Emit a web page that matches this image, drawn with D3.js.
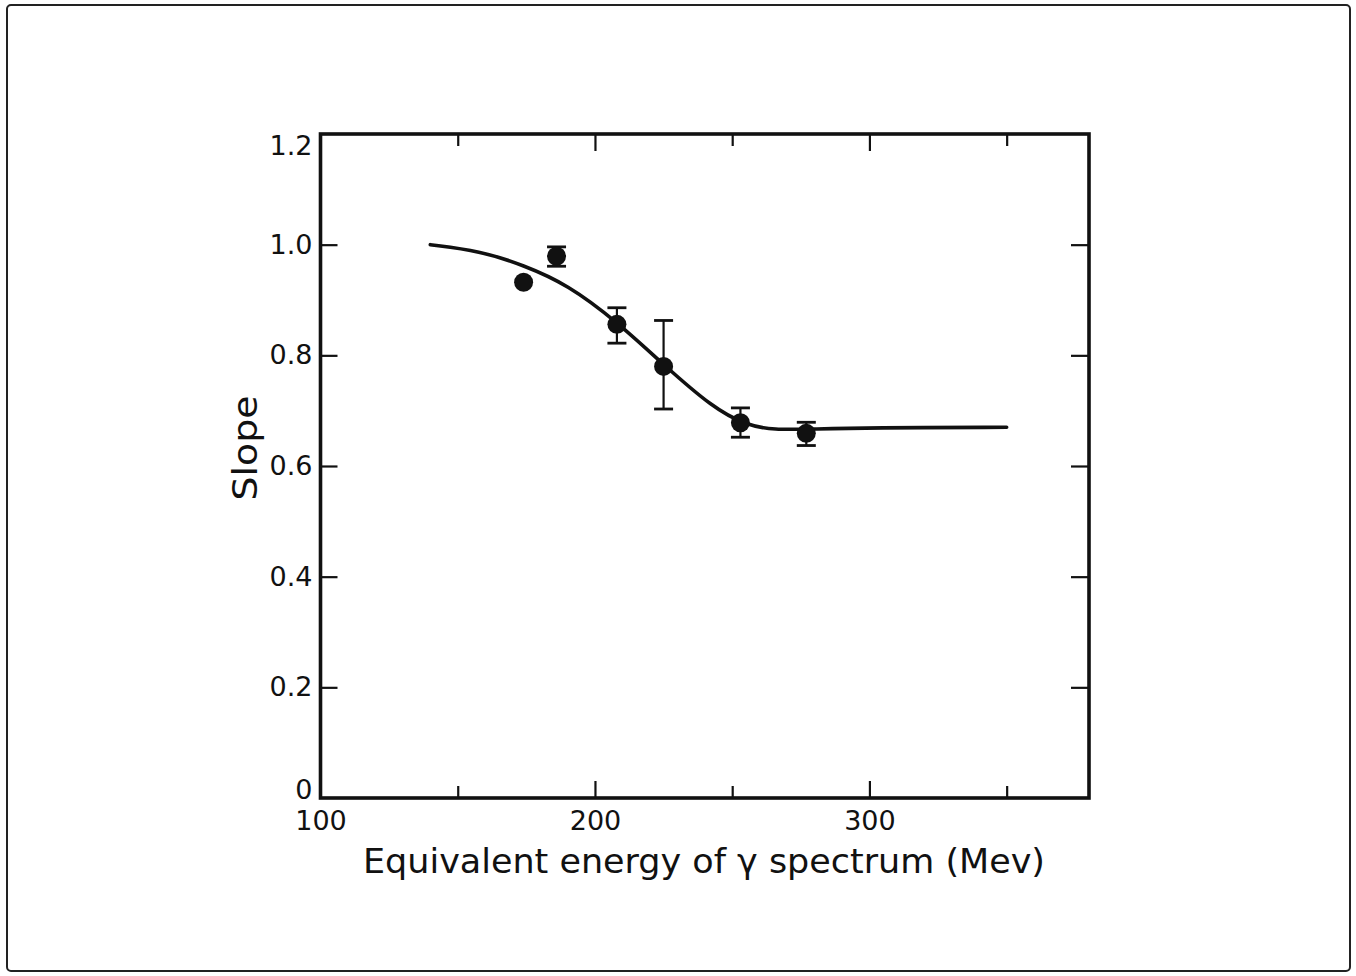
<!DOCTYPE html>
<html>
<head>
<meta charset="utf-8">
<script src="https://cdn.jsdelivr.net/npm/d3@7/dist/d3.min.js"></script>
<style>
  html, body { margin: 0; padding: 0; background: #fff; }
  svg { display: block; }
  text { font-family: "DejaVu Sans", sans-serif; fill: #111; }
</style>
</head>
<body>
<script>
// Measured slopes vs. equivalent photon energy
const energy = [174, 186, 208, 225, 253, 277];
const slope  = [0.932, 0.979, 0.856, 0.780, 0.678, 0.659];
const errUp  = [null, 0.017, 0.030, 0.083, 0.027, 0.020];
const errDn  = [null, 0.018, 0.034, 0.077, 0.026, 0.022];

// Smooth fitted curve, sampled along its length
const curveE = [140, 158, 174, 190, 208, 225, 243, 255, 265, 280, 300, 350];
const curveS = [1.000, 0.989, 0.963, 0.928, 0.861, 0.783, 0.705, 0.674, 0.665, 0.667, 0.669, 0.670];

// Axis ticks
const xLabelTicks = [100, 200, 300];
const xMajorTicks = [200, 300];
const xMinorTicks = [150, 250, 350];
const yTicks = [0, 0.2, 0.4, 0.6, 0.8, 1.0, 1.2];
const yInnerTicks = [0.2, 0.4, 0.6, 0.8, 1.0];

const W = 1356, H = 976;
const svg = d3.select("body").append("svg").attr("width", W).attr("height", H);

// Page edge
svg.append("rect")
  .attr("x", 7).attr("y", 5).attr("width", 1343).attr("height", 966)
  .attr("rx", 4).attr("fill", "none").attr("stroke", "#222").attr("stroke-width", 2);

const x = d3.scaleLinear().domain([100, 380]).range([320.5, 1089]);
const y = d3.scaleLinear().domain([0, 1.2]).range([798, 134]);

const [x0, x1] = x.range();
const [y0, y1] = y.range();

const tickStyle = g => {
  g.select(".domain").remove();
  g.selectAll(".tick line").attr("stroke", "#111").attr("stroke-width", 2.2);
  g.selectAll("text").attr("font-size", 27).attr("fill", "#111");
};

// Bottom axis: labels + major and minor inward ticks
svg.append("g").attr("transform", `translate(0,${y0})`)
  .call(d3.axisBottom(x).tickValues(xLabelTicks).tickSize(0).tickPadding(13).tickFormat(d3.format("d")))
  .call(tickStyle);
svg.append("g").attr("transform", `translate(0,${y0})`)
  .call(d3.axisBottom(x).tickValues(xMajorTicks).tickSize(-17).tickFormat(""))
  .call(tickStyle);
svg.append("g").attr("transform", `translate(0,${y0})`)
  .call(d3.axisBottom(x).tickValues(xMinorTicks).tickSize(-12).tickFormat(""))
  .call(tickStyle);

// Top axis ticks
svg.append("g").attr("transform", `translate(0,${y1})`)
  .call(d3.axisTop(x).tickValues(xMajorTicks).tickSize(-17).tickFormat(""))
  .call(tickStyle);
svg.append("g").attr("transform", `translate(0,${y1})`)
  .call(d3.axisTop(x).tickValues(xMinorTicks).tickSize(-12).tickFormat(""))
  .call(tickStyle);

// Left axis labels and ticks
const yFmt = d => d === 0 ? "0" : d.toFixed(1);
svg.append("g").attr("transform", `translate(${x0},0)`)
  .call(d3.axisLeft(y).tickValues(yTicks).tickSize(0).tickPadding(8).tickFormat(yFmt))
  .call(tickStyle)
  .call(g => {
    g.selectAll(".tick text").filter(d => d === 1.2).attr("dy", "0.75em");
    g.selectAll(".tick text").filter(d => d === 0).attr("dy", "0em");
  });
svg.append("g").attr("transform", `translate(${x0},0)`)
  .call(d3.axisLeft(y).tickValues(yInnerTicks).tickSize(-17).tickFormat(""))
  .call(tickStyle);

// Right axis ticks
svg.append("g").attr("transform", `translate(${x1},0)`)
  .call(d3.axisRight(y).tickValues(yInnerTicks).tickSize(-18).tickFormat(""))
  .call(tickStyle);

// Frame
svg.append("rect")
  .attr("x", x0).attr("y", y1).attr("width", x1 - x0).attr("height", y0 - y1)
  .attr("fill", "none").attr("stroke", "#111").attr("stroke-width", 3.6);

// Fitted curve (B-spline through the sampled points for a smooth shape)
const curveData = curveE.map((e, i) => ({ e, s: curveS[i] }));
svg.append("path")
  .datum(curveData)
  .attr("fill", "none").attr("stroke", "#111").attr("stroke-width", 3.6)
  .attr("stroke-linecap", "round")
  .attr("d", d3.line().x(d => x(d.e)).y(d => y(d.s)).curve(d3.curveBasis));

// Data points with error bars
const pts = energy.map((e, i) => ({ e, s: slope[i], up: errUp[i], dn: errDn[i] }));
const capHalf = 9.5;
const eb = svg.append("g").attr("stroke", "#111").attr("stroke-width", 2.2);
pts.filter(d => d.up != null).forEach(d => {
  const cx = x(d.e), yt = y(d.s + d.up), yb = y(d.s - d.dn);
  eb.append("line").attr("x1", cx).attr("x2", cx).attr("y1", yt).attr("y2", yb);
  eb.append("line").attr("x1", cx - capHalf).attr("x2", cx + capHalf).attr("y1", yt).attr("y2", yt).attr("stroke-width", 2.8);
  eb.append("line").attr("x1", cx - capHalf).attr("x2", cx + capHalf).attr("y1", yb).attr("y2", yb).attr("stroke-width", 2.8);
});
svg.append("g").selectAll("circle").data(pts).join("circle")
  .attr("cx", d => x(d.e)).attr("cy", d => y(d.s)).attr("r", 9.5)
  .attr("fill", "#111");

// Axis titles
svg.append("text")
  .attr("x", 363).attr("y", 873)
  .attr("font-size", 33)
  .attr("textLength", 682).attr("lengthAdjust", "spacingAndGlyphs")
  .text("Equivalent energy of γ spectrum (Mev)");

svg.append("text")
  .attr("transform", "translate(257,448) rotate(-90)")
  .attr("text-anchor", "middle")
  .attr("font-size", 33)
  .attr("textLength", 105).attr("lengthAdjust", "spacingAndGlyphs")
  .text("Slope");
</script>
</body>
</html>
